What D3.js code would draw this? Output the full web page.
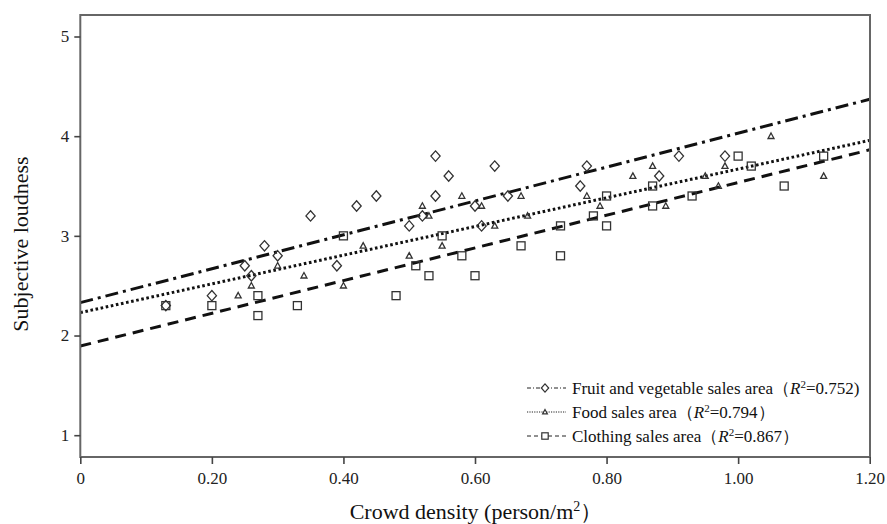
<!DOCTYPE html>
<html>
<head>
<meta charset="utf-8">
<script src="https://cdn.jsdelivr.net/npm/d3@7"></script>
<style>
  body { margin: 0; background: #fff; }
  svg { display: block; font-family: "Liberation Serif", "Times New Roman", serif; }
</style>
</head>
<body>
<div class="box"></div>
<script>
// values
const xTicks = [0, 0.2, 0.4, 0.6, 0.8, 1.0, 1.2];
const yTicks = [1, 2, 3, 4, 5];

const fruitPoints = [
  [0.13, 2.3], [0.20, 2.4], [0.25, 2.7], [0.26, 2.6], [0.28, 2.9], [0.30, 2.8],
  [0.35, 3.2], [0.39, 2.7], [0.42, 3.3], [0.45, 3.4], [0.50, 3.1], [0.52, 3.2],
  [0.54, 3.8], [0.54, 3.4], [0.56, 3.6], [0.60, 3.3], [0.61, 3.1], [0.63, 3.7],
  [0.65, 3.4], [0.76, 3.5], [0.77, 3.7], [0.88, 3.6], [0.91, 3.8], [0.98, 3.8]
];
const foodPoints = [
  [0.24, 2.4], [0.26, 2.5], [0.30, 2.7], [0.34, 2.6], [0.40, 2.5], [0.43, 2.9],
  [0.50, 2.8], [0.52, 3.3], [0.53, 3.2], [0.55, 2.9], [0.58, 3.4], [0.61, 3.3],
  [0.63, 3.1], [0.67, 3.4], [0.68, 3.2], [0.77, 3.4], [0.79, 3.3], [0.84, 3.6],
  [0.87, 3.7], [0.89, 3.3], [0.95, 3.6], [0.97, 3.5], [0.98, 3.7], [1.05, 4.0],
  [1.13, 3.6]
];
const clothingPoints = [
  [0.13, 2.3], [0.20, 2.3], [0.27, 2.4], [0.27, 2.2], [0.33, 2.3], [0.40, 3.0],
  [0.48, 2.4], [0.51, 2.7], [0.53, 2.6], [0.55, 3.0], [0.58, 2.8], [0.60, 2.6],
  [0.67, 2.9], [0.73, 3.1], [0.73, 2.8], [0.78, 3.2], [0.80, 3.4], [0.80, 3.1],
  [0.87, 3.5], [0.87, 3.3], [0.93, 3.4], [1.00, 3.8], [1.02, 3.7], [1.07, 3.5],
  [1.13, 3.8]
];

const seriesNames = ["Fruit and vegetable sales area", "Food sales area", "Clothing sales area"];
const rSquared = ["0.752", "0.794", "0.867"];
const fitIntercepts = [2.33, 2.23, 1.895];
const fitSlopes = [1.70, 1.44, 1.64];

const width = 887, height = 524;
const frame = { left: 80.3, right: 870, top: 15, bottom: 457 };

const x = d3.scaleLinear().domain([0, 1.2]).range([80.3, 869.7]);
const y = d3.scaleLinear().domain([1, 5]).range([435.2, 36.5]);

const svg = d3.create("svg")
  .attr("width", width)
  .attr("height", height)
  .attr("viewBox", [0, 0, width, height]);

const dashes = ["13,5,3,5", "2.6,2.6", "11,7"];
const legendDashes = ["4,2,1,2", "1.2,1.2", "4,3"];

const series = [fruitPoints, foodPoints, clothingPoints].map((pts, i) => ({
  name: seriesNames[i], r2: rSquared[i], points: pts,
  a: fitIntercepts[i], b: fitSlopes[i], dash: dashes[i], ldash: legendDashes[i], shape: i
}));

const line = d3.line().x(d => x(d[0])).y(d => y(d[1]));

// regression lines
svg.append("g")
  .attr("fill", "none")
  .attr("stroke", "#111")
  .attr("stroke-width", 3)
  .selectAll("path")
  .data(series)
  .join("path")
  .attr("stroke-dasharray", d => d.dash)
  .attr("d", d => line([[0, d.a], [1.2, d.a + 1.2 * d.b]]));

// marker shapes
function marker(sel, shape, k) {
  k = k || 1;
  if (shape === 0) {
    sel.append("path").attr("d", `M0,${-5.2 * k}L${4.6 * k},0L0,${5.2 * k}L${-4.6 * k},0Z`);
  } else if (shape === 1) {
    sel.append("path").attr("d", `M0,${-3.2 * k}L${3 * k},${2.3 * k}L${-3 * k},${2.3 * k}Z`);
  } else {
    sel.append("rect").attr("x", -4 * k).attr("y", -4 * k).attr("width", 8 * k).attr("height", 8 * k);
  }
}

const pts = svg.append("g")
  .attr("fill", "none")
  .attr("stroke", "#333")
  .attr("stroke-width", 1.3);

series.forEach(s => {
  pts.append("g")
    .selectAll("g")
    .data(s.points)
    .join("g")
    .attr("transform", d => `translate(${x(d[0])},${y(d[1])})`)
    .each(function () { marker(d3.select(this), s.shape); });
});

// frame
svg.append("rect")
  .attr("x", frame.left)
  .attr("y", frame.top)
  .attr("width", frame.right - frame.left)
  .attr("height", frame.bottom - frame.top)
  .attr("fill", "none")
  .attr("stroke", "#666")
  .attr("stroke-width", 2);

// axes
const xAxis = svg.append("g")
  .attr("transform", `translate(0,${frame.bottom})`)
  .call(d3.axisBottom(x).tickValues(xTicks).tickSize(7).tickPadding(8)
    .tickFormat(d => d === 0 ? "0" : d3.format(".2f")(d)));
const yAxis = svg.append("g")
  .attr("transform", `translate(${frame.left},0)`)
  .call(d3.axisLeft(y).tickValues(yTicks).tickSize(6).tickPadding(5)
    .tickFormat(d3.format("d")));

[xAxis, yAxis].forEach(g => {
  g.select(".domain").remove();
  g.selectAll(".tick line").attr("stroke", "#444").attr("stroke-width", 1.6);
  g.selectAll("text")
    .attr("fill", "#222")
    .style("font-family", "'Liberation Serif', serif")
    .style("font-size", "17px");
});

// axis titles
const xTitle = svg.append("text")
  .attr("x", 476)
  .attr("y", 519)
  .attr("text-anchor", "middle")
  .attr("fill", "#111")
  .style("font-size", "22px");
xTitle.append("tspan").text("Crowd density (person/m");
xTitle.append("tspan").attr("dy", -8).style("font-size", "14px").text("2");
xTitle.append("tspan").attr("dy", 8).text("）");

svg.append("text")
  .attr("transform", "translate(28,244) rotate(-90)")
  .attr("text-anchor", "middle")
  .attr("fill", "#111")
  .style("font-size", "22px")
  .text("Subjective loudness");

// legend
const legend = svg.append("g");
const rows = legend.selectAll("g")
  .data(series)
  .join("g")
  .attr("transform", (d, i) => `translate(0,${388 + i * 24})`);

rows.append("line")
  .attr("x1", 527).attr("x2", 566)
  .attr("stroke", "#222")
  .attr("stroke-width", 1)
  .attr("stroke-dasharray", d => d.ldash);

rows.append("g")
  .attr("transform", "translate(545,0)")
  .attr("fill", "#fff")
  .attr("stroke", "#333")
  .attr("stroke-width", 1.2)
  .each(function (d) { marker(d3.select(this), d.shape, 0.8); });

const labels = rows.append("text")
  .attr("x", 572)
  .attr("y", 6)
  .attr("fill", "#111")
  .style("font-size", "17px");
labels.append("tspan").text(d => d.name + "（");
labels.append("tspan").style("font-style", "italic").text("R");
labels.append("tspan").attr("dy", -6).style("font-size", "11px").text("2");
labels.append("tspan").attr("dy", 6).text((d, i) => "=" + d.r2 + (i === 0 ? ")" : "）"));

document.querySelector(".box").appendChild(svg.node());
</script>
</body>
</html>
